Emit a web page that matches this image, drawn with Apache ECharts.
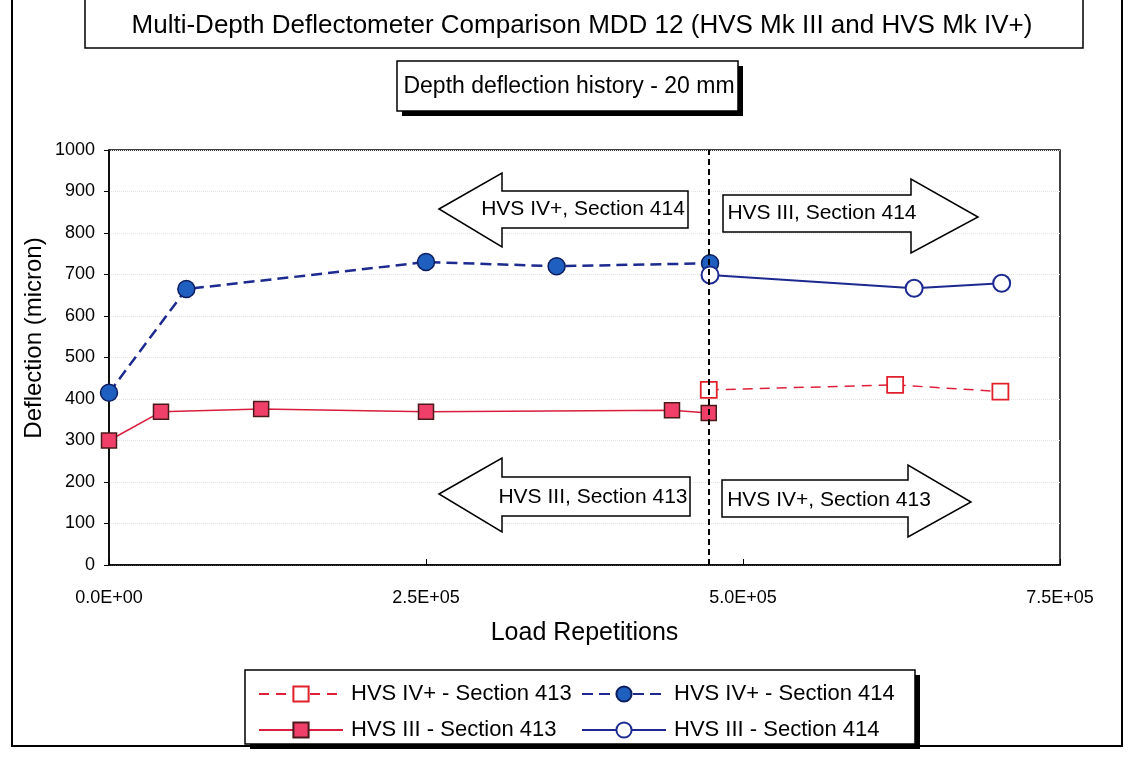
<!DOCTYPE html>
<html>
<head>
<meta charset="utf-8">
<script src="https://cdn.jsdelivr.net/npm/echarts@6/dist/echarts.min.js"></script>
<style>
  html, body { margin: 0; padding: 0; background: #fff; }
  #chart { width: 1128px; height: 764px; }
</style>
</head>
<body>
<div id="chart"></div>
<script>
// load repetitions / deflection (micron)
var xIV413 = [473000, 620000, 703000];
var yIV413 = [422, 434, 418];
var xIV414 = [0, 61000, 250000, 353000, 474000];
var yIV414 = [415, 665, 730, 720, 727];
var xIII413 = [0, 41000, 120000, 250000, 444000, 473000];
var yIII413 = [300, 369, 376, 369, 373, 366];
var xIII414 = [474000, 635000, 704000];
var yIII414 = [699, 667, 679];
var switchAt = 473000;

var names = ['HVS IV+ - Section 413', 'HVS IV+ - Section 414', 'HVS III - Section 413', 'HVS III - Section 414'];
var FONT = 'Liberation Sans, Arial, sans-serif';

function pairs(xs, ys) {
  return xs.map(function (x, i) { return [x, ys[i]]; });
}

// 2.5E+05 style labels
function sci(v) {
  if (v === 0) return '0.0E+00';
  var e = Math.floor(Math.log10(v));
  var m = v / Math.pow(10, e);
  return m.toFixed(1) + 'E+' + (e < 10 ? '0' : '') + e;
}

function arrow(pts, label, cx, cy) {
  return [
    {
      type: 'polygon',
      shape: { points: pts },
      style: { fill: '#fff', stroke: '#000', lineWidth: 1.5 },
      z: 10
    },
    {
      type: 'text',
      x: cx, y: cy,
      style: { text: label, font: '21px ' + FONT, fill: '#000', align: 'center', verticalAlign: 'middle' },
      z: 11
    }
  ];
}

var chart = echarts.init(document.getElementById('chart'));

var graphics = [
  // outer frame
  { type: 'rect', shape: { x: 12, y: -5, width: 1110, height: 751 }, style: { fill: null, stroke: '#000', lineWidth: 2 }, z: 0 },
  // title box
  { type: 'rect', shape: { x: 85, y: -3, width: 998, height: 51 }, style: { fill: '#fff', stroke: '#000', lineWidth: 1.5 }, z: 1 },
  { type: 'text', x: 582, y: 26, style: { text: 'Multi-Depth Deflectometer Comparison MDD 12 (HVS Mk III and HVS Mk IV+)', font: '26px ' + FONT, fill: '#000', align: 'center', verticalAlign: 'middle' }, z: 2 },
  // subtitle box with shadow
  { type: 'rect', shape: { x: 402, y: 66, width: 341, height: 50 }, style: { fill: '#000' }, z: 1 },
  { type: 'rect', shape: { x: 397, y: 61, width: 341, height: 50 }, style: { fill: '#fff', stroke: '#000', lineWidth: 1.5 }, z: 2 },
  { type: 'text', x: 569, y: 87, style: { text: 'Depth deflection history - 20 mm', font: '23px ' + FONT, fill: '#000', align: 'center', verticalAlign: 'middle' }, z: 3 },
  // y axis title, sits a bit above the plot centre like the original
  { type: 'text', x: 34, y: 338, rotation: Math.PI / 2, style: { text: 'Deflection (micron)', font: '24px ' + FONT, fill: '#000', align: 'center', verticalAlign: 'middle' }, z: 3 },
  // legend box with shadow
  { type: 'rect', shape: { x: 250, y: 675, width: 670, height: 74 }, style: { fill: '#000' }, z: 1 },
  { type: 'rect', shape: { x: 245, y: 670, width: 670, height: 74 }, style: { fill: '#fff', stroke: '#000', lineWidth: 1.5 }, z: 2 }
];

graphics = graphics
  .concat(arrow([[439, 209], [502, 173], [502, 191], [688, 191], [688, 228], [502, 228], [502, 247]], 'HVS IV+, Section 414', 583, 209))
  .concat(arrow([[723, 195], [911, 195], [911, 179], [978, 217], [911, 253], [911, 232], [723, 232]], 'HVS III, Section 414', 822, 213))
  .concat(arrow([[439, 494], [502, 458], [502, 477], [690, 477], [690, 516], [502, 516], [502, 532]], 'HVS III, Section 413', 593, 497))
  .concat(arrow([[722, 480], [908, 480], [908, 465], [971, 502], [908, 537], [908, 517], [722, 517]], 'HVS IV+, Section 413', 829, 500));

function legendAt(name, left, top) {
  return {
    left: left, top: top,
    data: [name],
    itemWidth: 84,
    itemHeight: 19,
    textStyle: { fontFamily: FONT, fontSize: 22, color: '#000', padding: [0, 0, 0, 3] },
    z: 5
  };
}

var option = {
  animation: false,
  backgroundColor: '#fff',
  grid: {
    left: 109, right: 68, top: 150, bottom: 199,
    show: true, borderColor: '#000', borderWidth: 1.5, backgroundColor: '#fff'
  },
  legend: [
    legendAt(names[0], 253, 678),
    legendAt(names[1], 576, 678),
    legendAt(names[2], 253, 714),
    legendAt(names[3], 576, 714)
  ],
  xAxis: {
    type: 'value',
    min: 0, max: 750000, interval: 250000,
    name: 'Load Repetitions',
    nameLocation: 'middle',
    nameGap: 56,
    nameTextStyle: { fontFamily: FONT, fontSize: 25, color: '#000' },
    axisLine: { lineStyle: { color: '#000', width: 1.5 } },
    axisTick: { inside: true, length: 6, lineStyle: { color: '#000' } },
    axisLabel: { formatter: sci, fontFamily: FONT, fontSize: 18, color: '#000', margin: 24 },
    splitLine: { show: false }
  },
  yAxis: {
    type: 'value',
    min: 0, max: 1000, interval: 100,
    axisLine: { show: true, lineStyle: { color: '#000', width: 1.5 } },
    axisTick: { show: true, length: 5, lineStyle: { color: '#000' } },
    axisLabel: { formatter: function (v) { return String(v); }, fontFamily: FONT, fontSize: 18, color: '#000', margin: 14 },
    splitLine: { show: true, lineStyle: { color: '#e4e4e4', type: 'dotted' } }
  },
  series: [
    {
      name: names[0], type: 'line', data: pairs(xIV413, yIV413),
      symbol: 'rect', symbolSize: 16,
      lineStyle: { color: '#e0203a', width: 1.5, type: [10, 7] },
      itemStyle: { color: '#fff', borderColor: '#e0202a', borderWidth: 1.8 },
      z: 3
    },
    {
      name: names[1], type: 'line', data: pairs(xIV414, yIV414),
      symbol: 'circle', symbolSize: 17,
      lineStyle: { color: '#1c2a90', width: 2.5, type: [11, 6] },
      itemStyle: { color: '#1f5fbf', borderColor: '#0d1d5d', borderWidth: 1.5 },
      z: 4,
      markLine: {
        silent: true,
        symbol: 'none',
        label: { show: false },
        lineStyle: { color: '#000', width: 2, type: [6, 4] },
        data: [{ xAxis: switchAt }]
      }
    },
    {
      name: names[2], type: 'line', data: pairs(xIII413, yIII413),
      symbol: 'rect', symbolSize: 15,
      lineStyle: { color: '#d81e3c', width: 1.5, type: 'solid' },
      itemStyle: { color: '#f0406a', borderColor: '#4a1a1a', borderWidth: 1.5 },
      z: 3
    },
    {
      name: names[3], type: 'line', data: pairs(xIII414, yIII414),
      symbol: 'circle', symbolSize: 17,
      lineStyle: { color: '#1c2a90', width: 2, type: 'solid' },
      itemStyle: { color: '#fff', borderColor: '#1c2a90', borderWidth: 2 },
      z: 4
    }
  ],
  graphic: graphics
};

chart.setOption(option);
</script>
</body>
</html>
